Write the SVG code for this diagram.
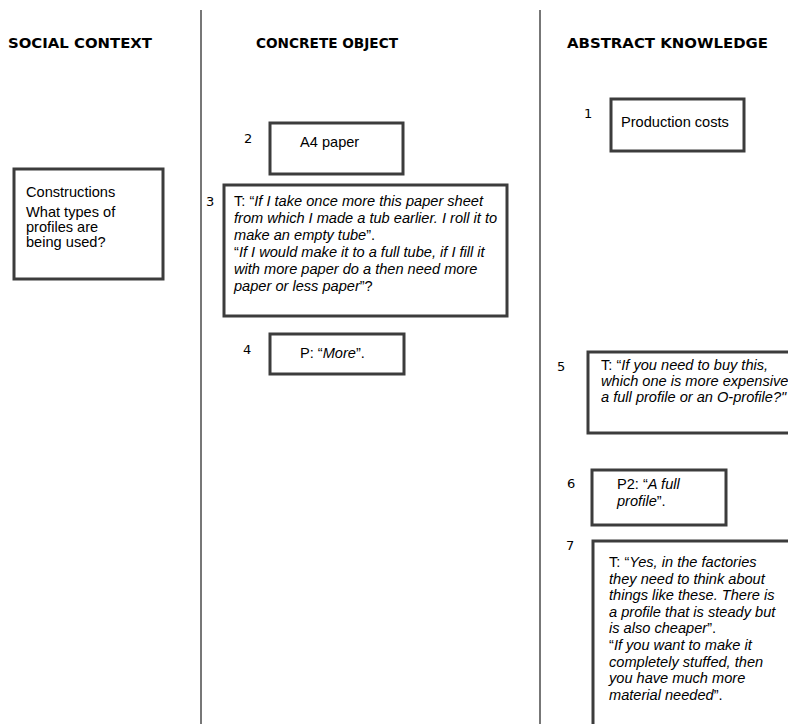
<svg xmlns="http://www.w3.org/2000/svg" width="788" height="724" viewBox="0 0 788 724">
  <style>
    .head { font-family: "DejaVu Sans", Verdana, sans-serif; font-weight: bold; font-size: 14.5px; fill: #000; }
    .txt { font-family: "Liberation Sans", Arial, sans-serif; font-size: 14.6px; fill: #000; }
    .num { font-family: "DejaVu Sans", Verdana, sans-serif; font-size: 13px; fill: #000; }
    .it { font-style: italic; }
    .box { fill: #fff; stroke: #3c3c3c; stroke-width: 3; }
    .divider { stroke: #4a4a4a; stroke-width: 1.5; }
  </style>
  <rect width="788" height="724" fill="#fff"/>

  <!-- column dividers -->
  <g id="dividers">
    <line class="divider" x1="201" y1="10" x2="201" y2="724"/>
    <line class="divider" x1="540" y1="10" x2="540" y2="724"/>
  </g>

  <!-- column headings -->
  <g id="headings">
    <text class="head" x="8" y="48" textLength="144" lengthAdjust="spacingAndGlyphs">SOCIAL CONTEXT</text>
    <text class="head" x="256" y="48" textLength="142" lengthAdjust="spacingAndGlyphs">CONCRETE OBJECT</text>
    <text class="head" x="567" y="48" textLength="201" lengthAdjust="spacingAndGlyphs">ABSTRACT KNOWLEDGE</text>
  </g>

  <g id="social">
    <rect class="box" x="14" y="169" width="149" height="110"/>
    <text class="txt" x="26" y="197">Constructions</text>
    <text class="txt" x="26" y="217">What types of</text>
    <text class="txt" x="26" y="232">profiles are</text>
    <text class="txt" x="26" y="247">being used?</text>
  </g>

  <g id="step1">
    <text class="num" x="584" y="118">1</text>
    <rect class="box" x="611" y="99" width="133" height="52"/>
    <text class="txt" x="621" y="127">Production costs</text>
  </g>

  <g id="step2">
    <text class="num" x="244" y="143">2</text>
    <rect class="box" x="270" y="123" width="133" height="51"/>
    <text class="txt" x="300" y="147">A4 paper</text>
  </g>

  <g id="step3">
    <text class="num" x="206" y="206">3</text>
    <rect class="box" x="224" y="185" width="283" height="131"/>
    <text class="txt" x="234" y="206">T: “<tspan class="it">If I take once more this paper sheet</tspan></text>
    <text class="txt it" x="234" y="223">from which I made a tub earlier. I roll it to</text>
    <text class="txt" x="234" y="240"><tspan class="it">make an empty tube</tspan>”.</text>
    <text class="txt" x="234" y="257">“<tspan class="it">If I would make it to a full tube, if I fill it</tspan></text>
    <text class="txt it" x="234" y="274">with more paper do a then need more</text>
    <text class="txt" x="234" y="291"><tspan class="it">paper or less paper</tspan>”?</text>
  </g>

  <g id="step4">
    <text class="num" x="243" y="354">4</text>
    <rect class="box" x="270" y="334" width="134" height="40"/>
    <text class="txt" x="300" y="358">P: “<tspan class="it">More</tspan>”.</text>
  </g>

  <g id="step5">
    <text class="num" x="557" y="371">5</text>
    <rect class="box" x="588" y="352" width="220" height="81"/>
    <text class="txt" x="601" y="370">T: “<tspan class="it">If you need to buy this,</tspan></text>
    <text class="txt it" x="601" y="386">which one is more expensive</text>
    <text class="txt it" x="601" y="402">a full profile or an O-profile?"</text>
  </g>

  <g id="step6">
    <text class="num" x="567" y="488">6</text>
    <rect class="box" x="592" y="470" width="134" height="55"/>
    <text class="txt" x="617" y="489">P2: “<tspan class="it">A full</tspan></text>
    <text class="txt" x="617" y="506"><tspan class="it">profile</tspan>”.</text>
  </g>

  <g id="step7">
    <text class="num" x="566" y="550">7</text>
    <rect class="box" x="593" y="541" width="220" height="200"/>
    <text class="txt" x="609" y="567">T: “<tspan class="it">Yes, in the factories</tspan></text>
    <text class="txt it" x="609" y="583.6">they need to think about</text>
    <text class="txt it" x="609" y="600.2">things like these. There is</text>
    <text class="txt it" x="609" y="616.8">a profile that is steady but</text>
    <text class="txt" x="609" y="633.4"><tspan class="it">is also cheaper</tspan>”.</text>
    <text class="txt" x="609" y="650">“<tspan class="it">If you want to make it</tspan></text>
    <text class="txt it" x="609" y="666.6">completely stuffed, then</text>
    <text class="txt it" x="609" y="683.2">you have much more</text>
    <text class="txt" x="609" y="699.8"><tspan class="it">material needed</tspan>”.</text>
  </g>
</svg>
